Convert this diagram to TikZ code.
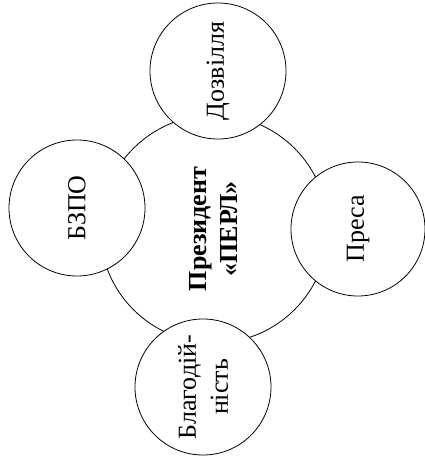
\documentclass[tikz,border=0pt]{standalone}
\usepackage{fontspec}
\setmainfont{Liberation Serif}
\begin{document}
\begin{tikzpicture}[x=1pt,y=-1pt,
  ring/.style={circle,draw=black,line width=0.8pt,fill=white,inner sep=0pt,
    rotate=90,align=center,font=\fontsize{26}{32}\selectfont},
  small/.style={ring,minimum size=136pt},
  big/.style={ring,minimum size=228pt,font=\fontsize{26}{31}\selectfont\bfseries}]
\useasboundingbox (0,0) rectangle (424,462);
\node[big] (pres) at (214,229) {Президент\\«ПЕРЛ»};
\node[small] (doz) at (218,71) {Дозвілля};
\node[small] (bzpo) at (77,208) {БЗПО};
\node[small,minimum size=134pt] (presa) at (358,229) {Преса};
\node[small] (blag) at (203,387) {Благодій-\\ність};
\end{tikzpicture}
\end{document}
